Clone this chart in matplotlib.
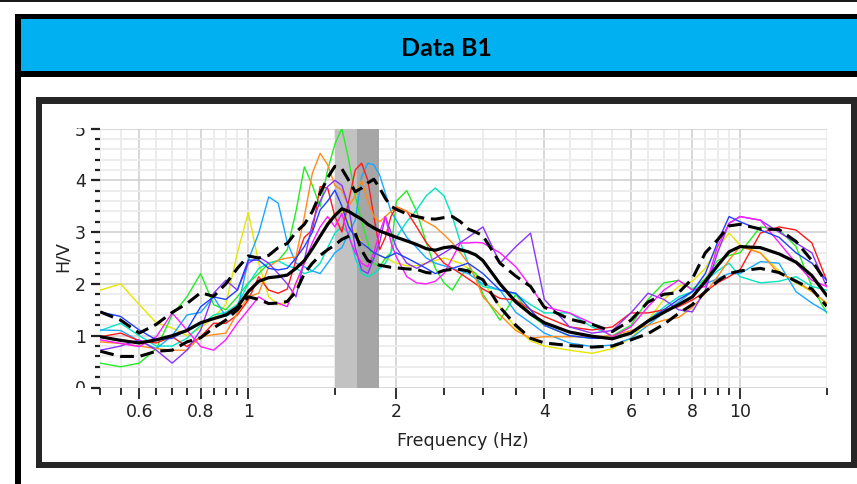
import numpy as np
import matplotlib
matplotlib.use("Agg")
import matplotlib.pyplot as plt
from matplotlib.patches import Rectangle
from matplotlib.transforms import Bbox, TransformedBbox

# ---------------------------------------------------------------- data
freq = [0.50, 0.55, 0.60, 0.65, 0.70, 0.75, 0.80, 0.85, 0.90, 0.95,
        1.00, 1.05, 1.10, 1.15, 1.20, 1.25, 1.30, 1.35, 1.40, 1.45,
        1.50, 1.55, 1.60, 1.65, 1.70, 1.75, 1.80, 1.85, 1.90, 1.95,
        2.00, 2.10, 2.20, 2.30, 2.40, 2.50, 2.60, 2.70, 2.80, 2.90,
        3.00, 3.25, 3.50, 3.75, 4.00, 4.50, 5.00, 5.50, 6.00, 6.50,
        7.00, 7.50, 8.00, 8.50, 9.00, 9.50, 10.0, 11.0, 12.0, 13.0,
        14.0, 15.0]

hv_yellow = [1.88, 2.00, 1.60, 1.25, 1.15, 1.00, 1.15, 1.35, 1.60, 2.60,
             3.38, 2.40, 1.75, 1.60, 1.65, 2.00, 2.40, 2.70, 2.90, 3.20,
             3.35, 3.40, 3.20, 3.00, 2.80, 2.70, 2.60, 2.55, 2.50, 2.45,
             2.40, 2.35, 2.35, 2.40, 2.45, 2.50, 2.45, 2.40, 2.30, 2.20,
             2.05, 1.55, 1.15, 0.90, 0.80, 0.72, 0.66, 0.75, 0.95, 1.30,
             1.70, 1.95, 2.05, 2.30, 2.70, 2.98, 2.75, 2.60, 2.25, 2.02,
             1.85, 1.63]
hv_green = [0.47, 0.40, 0.47, 0.75, 1.40, 1.75, 2.20, 1.60, 1.50, 1.75,
            2.02, 2.20, 2.40, 2.45, 2.66, 3.40, 4.26, 3.90, 3.49, 4.20,
            4.70, 5.00, 4.40, 3.70, 3.20, 2.80, 2.40, 2.33, 2.50, 2.60,
            3.60, 3.80, 3.40, 2.80, 2.30, 2.02, 1.88, 2.14, 2.30, 2.20,
            1.80, 1.30, 1.80, 1.40, 1.20, 1.00, 0.95, 1.00, 1.20, 1.70,
            2.02, 2.07, 1.90, 2.10, 2.45, 2.55, 2.60, 3.10, 3.05, 2.72,
            1.95, 1.44]
hv_cyan = [1.10, 1.24, 1.00, 0.80, 0.80, 0.95, 1.20, 1.40, 1.45, 1.60,
           2.00, 2.30, 2.40, 2.45, 2.35, 2.30, 2.20, 2.25, 2.40, 2.70,
           2.98, 3.10, 2.98, 2.50, 2.20, 2.14, 2.20, 2.30, 2.40, 2.60,
           2.90, 3.20, 3.43, 3.70, 3.85, 3.70, 3.30, 2.80, 2.40, 2.10,
           1.95, 1.88, 1.80, 1.60, 1.44, 1.44, 1.17, 1.00, 1.05, 1.30,
           1.55, 1.75, 1.85, 2.05, 2.25, 2.40, 2.14, 2.02, 2.05, 2.14,
           1.95, 1.88]
hv_sky = [1.11, 1.10, 0.90, 0.75, 1.00, 1.40, 1.45, 1.75, 1.37, 1.50,
          2.46, 2.98, 3.68, 3.56, 2.80, 2.40, 2.33, 2.25, 2.20, 2.40,
          2.60, 2.70, 2.98, 3.23, 4.07, 4.33, 4.30, 4.10, 3.75, 3.40,
          3.23, 2.90, 2.70, 2.50, 2.40, 2.35, 2.30, 2.25, 2.20, 2.10,
          2.00, 1.88, 1.45, 1.25, 1.05, 0.86, 0.79, 0.82, 0.95, 1.20,
          1.45, 1.65, 1.85, 2.00, 2.10, 2.20, 2.20, 2.43, 2.40, 1.85,
          1.63, 1.46]
hv_red = [0.98, 1.05, 0.90, 0.86, 0.98, 0.79, 0.98, 1.24, 1.24, 1.40,
          1.69, 2.14, 1.88, 1.82, 1.90, 2.46, 2.90, 3.04, 3.88, 3.85,
          3.30, 3.00, 3.60, 4.20, 4.33, 4.00, 3.30, 2.66, 2.90, 3.30,
          3.49, 3.40, 3.10, 2.80, 2.60, 2.40, 2.30, 2.20, 2.10, 2.00,
          1.90, 1.72, 1.69, 1.50, 1.37, 1.17, 1.11, 1.17, 1.44, 1.44,
          1.50, 1.56, 1.69, 1.85, 2.02, 2.14, 2.27, 2.98, 3.10, 3.04,
          2.79, 2.07]
hv_orange = [0.88, 0.85, 0.80, 0.75, 0.72, 0.72, 0.98, 1.02, 1.05, 1.44,
             1.75, 1.82, 2.33, 2.46, 2.50, 2.52, 3.30, 4.14, 4.52, 4.30,
             3.90, 3.81, 3.50, 3.70, 4.00, 3.60, 3.30, 3.20, 3.30, 3.40,
             3.49, 3.40, 3.30, 3.20, 3.10, 2.95, 2.79, 2.60, 2.40, 2.10,
             1.75, 1.40, 1.10, 0.95, 0.98, 0.98, 0.98, 1.00, 1.10, 1.20,
             1.30, 1.35, 1.55, 1.82, 2.14, 2.46, 2.72, 2.60, 2.20, 2.07,
             1.85, 1.63]
hv_purple = [0.72, 0.80, 0.92, 0.72, 0.47, 0.72, 1.11, 1.82, 2.07, 1.88,
             2.40, 2.52, 2.40, 2.20, 2.00, 1.75, 2.46, 3.17, 3.60, 3.88,
             4.00, 3.90, 3.49, 2.70, 2.27, 2.20, 2.50, 2.80, 3.30, 3.00,
             2.70, 2.40, 2.30, 2.40, 2.50, 2.60, 2.70, 2.80, 2.90, 3.00,
             3.10, 2.40, 2.72, 2.98, 1.70, 1.17, 1.05, 1.10, 1.44, 1.82,
             1.70, 1.50, 1.46, 1.88, 2.60, 3.17, 3.30, 3.23, 3.00, 2.79,
             2.60, 1.95]
hv_magenta = [0.92, 0.85, 0.79, 0.98, 1.44, 1.11, 0.79, 0.72, 0.92, 1.24,
              1.50, 1.75, 1.63, 1.63, 1.56, 2.02, 2.40, 2.80, 3.10, 3.30,
              3.10, 3.36, 2.91, 2.60, 2.40, 2.33, 2.60, 3.00, 3.30, 2.80,
              2.52, 2.14, 2.02, 2.00, 2.05, 2.20, 2.50, 2.79, 2.79, 2.80,
              2.79, 2.60, 2.33, 1.95, 1.56, 1.44, 1.24, 0.98, 1.17, 1.56,
              1.88, 2.07, 1.88, 1.95, 2.72, 3.17, 3.30, 3.23, 2.80, 2.40,
              2.07, 1.95]
hv_blue = [1.46, 1.37, 1.11, 0.92, 0.95, 1.11, 1.56, 1.75, 1.70, 1.88,
           2.46, 2.46, 2.30, 2.27, 2.30, 2.50, 2.72, 3.00, 3.43, 3.60,
           3.81, 3.50, 3.10, 2.90, 2.79, 2.70, 2.60, 2.55, 2.50, 2.55,
           2.60, 2.50, 2.40, 2.30, 2.20, 2.25, 2.30, 2.35, 2.40, 2.30,
           2.20, 1.88, 1.82, 1.50, 1.20, 1.00, 0.95, 0.95, 1.05, 1.30,
           1.50, 1.70, 1.85, 2.20, 2.80, 3.30, 3.20, 3.04, 2.90, 2.60,
           2.40, 2.07]

hv_mean = [0.98, 0.91, 0.86, 0.92, 1.00, 1.10, 1.25, 1.33, 1.40, 1.55,
           1.85, 2.05, 2.12, 2.14, 2.17, 2.30, 2.45, 2.68, 2.92, 3.15,
           3.32, 3.45, 3.40, 3.32, 3.25, 3.15, 3.08, 3.02, 2.98, 2.94,
           2.90, 2.83, 2.76, 2.68, 2.65, 2.70, 2.72, 2.66, 2.62, 2.56,
           2.45, 2.00, 1.65, 1.42, 1.25, 1.07, 0.99, 0.94, 1.05, 1.28,
           1.45, 1.60, 1.75, 2.05, 2.35, 2.62, 2.72, 2.70, 2.58, 2.42,
           2.16, 1.78]
hv_upper = [1.46, 1.30, 1.05, 1.22, 1.45, 1.62, 1.83, 1.76, 2.00, 2.30,
            2.54, 2.50, 2.55, 2.70, 2.78, 3.00, 3.15, 3.40, 3.75, 4.05,
            4.27, 4.22, 4.00, 3.78, 3.85, 3.95, 4.02, 3.85, 3.65, 3.50,
            3.44, 3.35, 3.30, 3.26, 3.25, 3.28, 3.30, 3.20, 3.06, 3.00,
            2.93, 2.40, 2.15, 1.95, 1.55, 1.32, 1.22, 1.08, 1.30, 1.65,
            1.80, 1.83, 2.10, 2.60, 2.85, 3.12, 3.15, 3.06, 3.05, 2.82,
            2.45, 2.02]
hv_lower = [0.70, 0.60, 0.60, 0.70, 0.72, 0.88, 0.96, 1.15, 1.30, 1.50,
            1.75, 1.70, 1.62, 1.63, 1.66, 1.85, 2.20, 2.40, 2.55, 2.66,
            2.75, 2.86, 2.92, 2.98, 2.65, 2.45, 2.40, 2.36, 2.34, 2.32,
            2.31, 2.29, 2.28, 2.22, 2.20, 2.26, 2.28, 2.28, 2.25, 2.15,
            2.08, 1.55, 1.20, 0.95, 0.86, 0.81, 0.78, 0.80, 0.92, 1.04,
            1.22, 1.43, 1.60, 1.85, 2.05, 2.20, 2.25, 2.30, 2.22, 2.05,
            1.90, 1.57]

# peak frequency band: f0 / sigma, f0, f0 * sigma
f0_low, f0, f0_high = 1.50, 1.666, 1.845

x_major = [0.6, 0.8, 1, 2, 4, 6, 8, 10]
x_major_labels = ["0.6", "0.8", "1", "2", "4", "6", "8", "10"]
x_minor = [0.5, 0.55, 0.65, 0.7, 0.75, 0.85, 0.9, 0.95, 1.5, 2.5, 3, 3.5,
           4.5, 5, 5.5, 6.5, 7, 7.5, 8.5, 9, 9.5, 15]
y_major = [0, 1, 2, 3, 4, 5]
y_major_labels = ["0", "1", "2", "3", "4", "5"]
y_minor = [0.2, 0.4, 0.6, 0.8, 1.2, 1.4, 1.6, 1.8, 2.2, 2.4, 2.6, 2.8,
           3.2, 3.4, 3.6, 3.8, 4.2, 4.4, 4.6, 4.8]

title = "Data B1"
x_label = "Frequency (Hz)"
y_label = "H/V"

# ---------------------------------------------------------------- figure
W, H = 857, 484
fig = plt.figure(figsize=(W / 100, H / 100), dpi=100)
fig.patch.set_facecolor("white")


def px_box(x0, y0, x1, y1, color):
    """Filled rectangle given in pixel coordinates measured from top-left."""
    fig.add_artist(Rectangle((x0 / W, 1 - y1 / H), (x1 - x0) / W, (y1 - y0) / H,
                             transform=fig.transFigure, facecolor=color,
                             edgecolor="none", zorder=0))


# page frame and heading bar
px_box(0, 0, W, 1.5, "#1a1a1a")
px_box(15, 14, W, 19, "#000000")
px_box(15, 14, 21, H, "#000000")
px_box(21, 19, W, 71, "#00b0f0")
px_box(21, 71, W, 77, "#000000")
# chart panel border
px_box(36, 97, W, 468, "#262626")
px_box(42, 104, 851, 462, "white")

fig.text(446 / W, 1 - 56 / H, title, ha="center", va="baseline",
         fontsize=18, fontweight="bold", family=["Lato", "DejaVu Sans"],
         color="black")

# ---------------------------------------------------------------- axes
ax_l, ax_r, ax_t, ax_b = 100.3, 826.6, 128.5, 387.5
ax = fig.add_axes([ax_l / W, 1 - ax_b / H, (ax_r - ax_l) / W, (ax_b - ax_t) / H])
ax.set_xscale("log")
ax.set_xlim(0.5, 15)
ax.set_ylim(0, 5)
for s in ax.spines.values():
    s.set_visible(False)

ax.set_xticks(x_major)
ax.set_xticklabels(x_major_labels)
ax.set_xticks(x_minor, minor=True)
ax.set_xticklabels([""] * len(x_minor), minor=True)
ax.set_yticks(y_major)
ax.set_yticklabels(y_major_labels)
ax.set_yticks(y_minor, minor=True)

tick_color = "#222222"
ax.tick_params(axis="x", which="major", length=8, width=1.3, color=tick_color,
               labelsize=12.5, labelcolor="#222222", pad=3)
ax.tick_params(axis="x", which="minor", length=5, width=1.3, color=tick_color)
ax.tick_params(axis="y", which="major", length=6.5, width=1.6, color=tick_color,
               labelsize=12.5, labelcolor="#222222", pad=4)
ax.tick_params(axis="y", which="minor", length=3.6, width=1.6, color=tick_color)

ax.grid(True, which="major", color="#d4d4d4", linewidth=1.3, zorder=0)
ax.grid(True, which="minor", color="#ebebeb", linewidth=1.3, zorder=0)
ax.set_axisbelow(True)

# peak frequency band
ax.axvspan(f0_low, f0, color="#c2c2c2", lw=0, zorder=1)
ax.axvspan(f0, f0_high, color="#a6a6a6", lw=0, zorder=1)

curves = [
    (hv_yellow, "#e6e600"),
    (hv_green, "#22ee22"),
    (hv_cyan, "#00e6c3"),
    (hv_sky, "#1aa8ff"),
    (hv_red, "#ff1a1a"),
    (hv_orange, "#ff8c1a"),
    (hv_purple, "#8c33ff"),
    (hv_magenta, "#ff1aff"),
    (hv_blue, "#2040ff"),
]
for vals, col in curves:
    ax.plot(freq, vals, color=col, lw=1.0, zorder=2)

ax.plot(freq, hv_upper, color="black", lw=2.2, dashes=(4.5, 2.2), zorder=3)
ax.plot(freq, hv_lower, color="black", lw=2.2, dashes=(4.5, 2.2), zorder=3)
ax.plot(freq, hv_mean, color="black", lw=2.3, zorder=4)

# axis titles
fig.text(463 / W, 1 - 446 / H, x_label, ha="center", va="baseline",
         fontsize=12.5, color="#222222")
fig.text(62.5 / W, 1 - 257 / H, y_label, ha="center", va="center",
         rotation=90, fontsize=12.5, color="#222222")

# tick labels on the value axis are cut at the plotting area's height
fig.canvas.draw()
clip = TransformedBbox(Bbox.from_extents(0, 1 - ax_b / H, ax_l / W, 1 - ax_t / H + 0.002),
                       fig.transFigure)
for lbl in ax.get_yticklabels():
    lbl.set_clip_box(clip)
    lbl.set_clip_on(True)

fig.savefig("out.png", dpi=100)
